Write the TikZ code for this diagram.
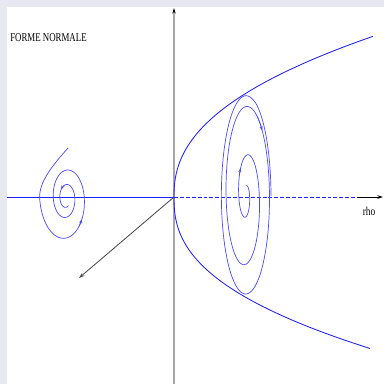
\documentclass[tikz,border=0pt]{standalone}
\usepackage{fontspec}
\setmainfont{Liberation Serif}
\usepackage{graphicx}
\usepackage{tikz}
\usetikzlibrary{arrows.meta}
\definecolor{bandcol}{HTML}{E8E8F2}
\definecolor{orbitblue}{HTML}{4A4AFF}
\definecolor{branchblue}{HTML}{2020FF}

\begin{document}
\begin{tikzpicture}[
    x=0.025cm, y=-0.025cm,
    axisline/.style={line width=0.8pt, black!35},
    orbit/.style={orbitblue, line width=0.5pt},
    branch/.style={branchblue, line width=0.6pt},
    arrowtip/.style={-{Stealth[length=4pt, width=2.6pt]}},
    smalltip/.style={-{Stealth[length=3pt, width=2.2pt]}},
    tagtext/.style={inner sep=0pt, font=\fontsize{8.5}{9}\selectfont},
    declare function={rin(\t)=1/sqrt(1+99*exp(-0.468*rad(\t-270)));
                      rout(\t)=1.55*exp(-0.116*rad(180-\t));}
]

\fill[bandcol] (0,0) rectangle (384,384);
\fill[white] (7,7) rectangle (384,384);
\useasboundingbox (0,0) rectangle (384,384);

\coordinate (O) at (174,197);
\coordinate (ytop) at (174,8);
\coordinate (ybot) at (174,384);
\coordinate (xleft) at (7,197);
\coordinate (xdash) at (357,197);
\coordinate (xright) at (383,197);
\coordinate (zend) at (79,278);
\coordinate (tail) at (68,148);

\draw[axisline, -{Stealth[length=4pt, width=2.4pt, color=black]}] (ybot) -- (ytop);
\draw[branch] (xleft) -- (O);
\draw[branch, dash pattern=on 2.8pt off 1.4pt] (O) -- (xdash);
\draw[line width=0.65pt, arrowtip] (xdash) -- (xright);
\draw[line width=0.6pt, black!70, arrowtip] (O) -- (zend);

\node[tagtext, anchor=west] (title) at (10,38) {\scalebox{0.74}[1]{FORME NORMALE}};
\node[tagtext] (rho) at (369,211) {\scalebox{0.78}[1]{rho}};

\draw[branch] plot[domain=14.1:0.05, samples=90, smooth] ({174+\x*\x},{197-16.5*\x^0.86})
    -- plot[domain=0.05:14, samples=90, smooth] ({174+\x*\x},{197+17.4*\x^0.82});

\draw[orbit] plot[domain=270:1440, samples=400, smooth]
    ({246+25*rin(\x)*cos(\x)},{196+101*rin(\x)*sin(\x)});
\draw[orbit, smalltip] plot[domain=1020:1035, samples=4]
    ({246+25*rin(\x)*cos(\x)},{196+101*rin(\x)*sin(\x)});
\draw[orbit, smalltip] plot[domain=578:592, samples=4]
    ({246+25*rin(\x)*cos(\x)},{196+101*rin(\x)*sin(\x)});

\draw[orbit] (tail) .. controls (52,166) and (39,182) .. (39.65,198)
    -- plot[domain=180:-660, samples=300, smooth]
    ({66+17*rout(\x)*cos(\x)},{198+31*rout(\x)*sin(\x)});
\draw[orbit, smalltip] plot[domain=50:36, samples=4]
    ({66+17*rout(\x)*cos(\x)},{198+31*rout(\x)*sin(\x)});
\draw[orbit, smalltip] plot[domain=-480:-495, samples=4]
    ({66+17*rout(\x)*cos(\x)},{198+31*rout(\x)*sin(\x)});

\end{tikzpicture}
\end{document}
